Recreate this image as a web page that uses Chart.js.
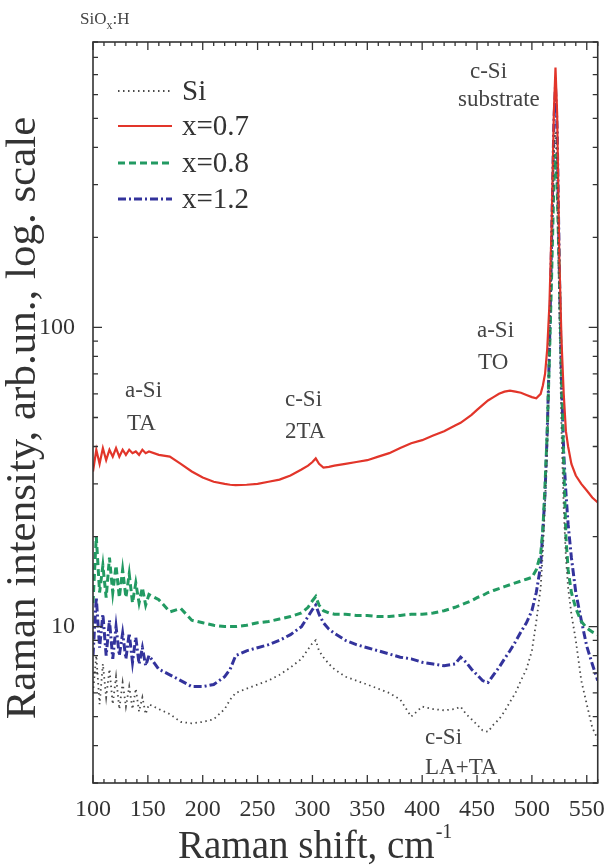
<!DOCTYPE html>
<html><head><meta charset="utf-8">
<script src="https://cdn.jsdelivr.net/npm/chart.js@4/dist/chart.umd.min.js"></script>
<style>html,body{margin:0;padding:0;background:#fff}#wrap{width:609px;height:867px;position:relative}</style>
</head><body><div id="wrap"><canvas id="c"></canvas></div>
<script>
const wavenumbers = [100,103,106,109,112,115,118,121,124,127,130,133,136,139,142,145,148,151,
  160,170,180,190,200,210,220,225,230,240,250,260,270,280,290,296,300,303,306,310,315,320,
  330,340,350,360,370,380,390,400,410,420,430,435,440,445,450,455,460,465,470,475,480,485,490,495,500,
  504,508,510,512,514,516,518,520,521.5,523,525,527,529,531,533,536,540,545,550,555,560];

const siValues = [6,8,5.5,7.5,5.8,7.2,5.5,6.8,5.3,6.5,5.4,6.3,5.3,6.2,5.2,5.8,5.1,5.5,
  5.3,5.1,4.8,4.75,4.8,4.9,5.3,5.7,6.0,6.2,6.4,6.6,6.9,7.3,7.8,8.4,8.8,9.0,8.3,7.9,7.5,7.2,
  6.8,6.6,6.4,6.2,6.0,5.7,5.0,5.4,5.3,5.25,5.3,5.4,5.1,4.9,4.7,4.5,4.45,4.7,4.9,5.2,5.6,6.0,6.6,7.2,8.3,
  10.4,13.5,18,26,40,80,170,380,450,320,110,45,25,17,13.5,11,9,6.6,5.5,4.6,4.2];

const x07Values = [33,39,35,39.5,36,39,37,39.5,37,39,37.5,39,38,38.5,37.5,39,38,38.5,
  37.5,37,35,33,31.5,30.5,30,29.8,29.7,29.8,30,30.5,31,32,33.5,34.5,35.5,36.5,35,34,34.2,34.5,
  35,35.5,36,37,38,39.5,41,42,43.5,45,47,48,49.5,51,53,55,57,58.5,60,61,61.5,61,60.5,59.5,58.5,
  58,60,64,70,85,120,220,520,740,520,170,90,60,45,40,35,32,30,28.5,27,26];

const x08Values = [12,20,13,16,12.5,17,13,16,12.5,15.5,12.5,15,12,14,12,13.5,11.8,12.8,
  12.3,11.2,11.5,10.5,10.3,10.1,10,10,10,10.1,10.3,10.4,10.6,10.8,11.1,11.6,12.2,12.6,11.8,11.3,11.1,11,
  11,10.9,10.9,10.8,10.8,10.9,11,11,11.1,11.3,11.6,11.8,12,12.2,12.5,12.7,13,13.2,13.4,13.6,13.8,14,14.2,14.4,14.6,
  15.5,17.5,21,30,45,80,150,300,380,300,150,70,35,20,15.5,13,11.5,10.4,9.9,9.6,9.4];

const x12Values = [8,12.5,8.5,11,8,10.5,7.8,10,8,9.5,7.8,9.5,7.6,9.2,7.5,8.5,7.4,8,
  7.2,6.9,6.6,6.3,6.3,6.4,6.8,7.2,8.0,8.3,8.5,8.7,9.0,9.4,10,10.8,11.4,11.8,11,10.3,9.8,9.5,
  9.0,8.7,8.5,8.3,8.1,7.9,7.8,7.6,7.5,7.4,7.5,7.9,7.6,7.2,6.9,6.6,6.5,6.9,7.3,7.8,8.3,8.9,9.6,10.3,11.3,
  13,16,21,28,45,85,200,480,640,460,160,65,38,28,22,17,13,10.5,8.6,7.5,6.6];

const seriesLabels = ['Si','x=0.7','x=0.8','x=1.2'];
const xTickLabels = [100,150,200,250,300,350,400,450,500,550];
const yTickLabels = [10,100];

const SERIF = '"Liberation Serif","DejaVu Serif",serif';
const TXT = '#333';

function pts(vals){ return wavenumbers.map((w,i)=>({x:w,y:vals[i]})); }

const datasets = [
  {label:seriesLabels[0], data:pts(siValues), borderColor:'#4a4a4a', borderWidth:1.8, borderDash:[1.5,3.5]},
  {label:seriesLabels[1], data:pts(x07Values), borderColor:'#e2352a', borderWidth:2.2, borderDash:[]},
  {label:seriesLabels[2], data:pts(x08Values), borderColor:'#229a62', borderWidth:3, borderDash:[7,4]},
  {label:seriesLabels[3], data:pts(x12Values), borderColor:'#33339c', borderWidth:3, borderDash:[8,3,2,3]}
].map(d=>Object.assign(d,{pointRadius:0,tension:0,fill:false}));

const framePlugin = {
  id:'frame',
  afterDraw(chart){
    const {ctx, chartArea:a, scales:{x,y}} = chart;
    ctx.save();
    ctx.strokeStyle = '#333'; ctx.lineWidth = 1.6;
    ctx.strokeRect(a.left, a.top, a.right-a.left, a.bottom-a.top);
    ctx.lineWidth = 1.3;
    ctx.beginPath();
    for(let v=100; v<=560; v+=10){
      const px = x.getPixelForValue(v);
      const len = v%50===0 ? 8 : 4;
      ctx.moveTo(px,a.bottom); ctx.lineTo(px,a.bottom-len);
      ctx.moveTo(px,a.top); ctx.lineTo(px,a.top+len);
    }
    for(const d of [1,10,100]){
      for(let m=1;m<=9;m++){
        const v=m*d; if(v<3||v>900) continue;
        const py = y.getPixelForValue(v);
        const len = m===1 ? 9 : 5;
        ctx.moveTo(a.left,py); ctx.lineTo(a.left+len,py);
        ctx.moveTo(a.right,py); ctx.lineTo(a.right-len,py);
      }
    }
    ctx.stroke();

    // legend
    const rows=[91,126,163,199];
    ctx.font = '29px '+SERIF; ctx.fillStyle=TXT; ctx.textBaseline='middle'; ctx.textAlign='left';
    chart.data.datasets.forEach((ds,i)=>{
      ctx.save();
      ctx.strokeStyle=ds.borderColor; ctx.lineWidth=ds.borderWidth; ctx.setLineDash(ds.borderDash);
      ctx.beginPath(); ctx.moveTo(118,rows[i]); ctx.lineTo(172,rows[i]); ctx.stroke();
      ctx.restore();
      ctx.fillText(ds.label,182,rows[i]+1);
    });

    // annotations
    ctx.font = '23px '+SERIF; ctx.fillStyle='#444'; ctx.textAlign='left'; ctx.textBaseline='middle';
    const notes = [['c-Si',470,72],['substrate',458,100],['a-Si',477,331],['TO',478,363],
      ['a-Si',125,391],['TA',127,424],['c-Si',285,400],['2TA',285,432],['c-Si',425,738],['LA+TA',425,768]];
    notes.forEach(n=>ctx.fillText(n[0],n[1],n[2]));

    // SiOx:H
    ctx.font='17px '+SERIF; ctx.textBaseline='alphabetic'; ctx.fillStyle='#444';
    let sx=80; ctx.fillText('SiO',sx,24); sx+=ctx.measureText('SiO').width;
    ctx.font='12px '+SERIF; ctx.fillText('x',sx,29); sx+=ctx.measureText('x').width;
    ctx.font='17px '+SERIF; ctx.fillText(':H',sx,24);

    // axis titles
    ctx.fillStyle=TXT;
    ctx.font='39px '+SERIF; ctx.textAlign='left'; ctx.textBaseline='alphabetic';
    const t='Raman shift, cm'; ctx.fillText(t,178,858);
    const tw=ctx.measureText(t).width;
    ctx.font='20px '+SERIF; ctx.fillText('-1',178+tw+1,838);
    ctx.save();
    ctx.translate(35,418); ctx.rotate(-Math.PI/2);
    ctx.font='43px '+SERIF; ctx.textAlign='center';
    ctx.fillText('Raman intensity, arb.un., log. scale',0,0);
    ctx.restore();
    ctx.restore();
  }
};

new Chart(document.getElementById('c'),{
  type:'line',
  data:{datasets},
  options:{
    responsive:true, maintainAspectRatio:false, animation:false,
    layout:{padding:{top:42,right:11,left:0,bottom:0}},
    plugins:{legend:{display:false},tooltip:{enabled:false}},
    scales:{
      x:{type:'linear',min:100,max:560,
        afterBuildTicks:s=>{s.ticks=xTickLabels.map(v=>({value:v}));},
        afterFit:s=>{s.height=84;},
        grid:{display:false}, border:{display:false},
        ticks:{padding:4,color:TXT,font:{family:SERIF,size:24},maxRotation:0,autoSkip:false}},
      y:{type:'logarithmic',min:3,max:900,
        afterBuildTicks:s=>{s.ticks=yTickLabels.map(v=>({value:v}));},
        afterFit:s=>{s.width=93;},
        grid:{display:false}, border:{display:false},
        ticks:{padding:10,color:TXT,font:{family:SERIF,size:24},callback:v=>String(v)}}
    }
  },
  plugins:[framePlugin]
});
</script></body></html>
